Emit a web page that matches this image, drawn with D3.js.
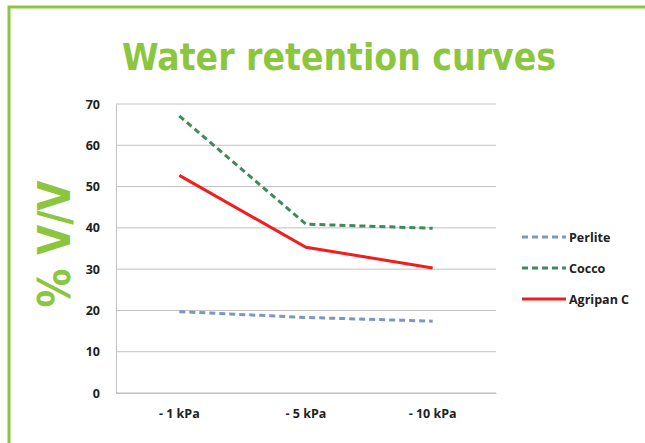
<!DOCTYPE html>
<html>
<head>
<meta charset="utf-8">
<script src="https://cdn.jsdelivr.net/npm/d3@7"></script>
<style>
body { margin: 0; background: #fff; }
svg { display: block; }
</style>
</head>
<body>
<svg id="chart" width="645" height="443"></svg>
<script>
// chart data
var categories = ["- 1 kPa", "- 5 kPa", "- 10 kPa"];
var perlite    = [19.7, 18.3, 17.4];
var cocco      = [67.1, 40.9, 39.9];
var agripan    = [52.7, 35.3, 30.3];
var yTicks     = [0, 10, 20, 30, 40, 50, 60, 70];

var series = [
        {name: "Perlite",   values: perlite, color: "#7b97c3", dash: "6,4"},
        {name: "Cocco",     values: cocco,   color: "#3e8b5a", dash: "6,4"},
        {name: "Agripan C", values: agripan, color: "#f01e1e", dash: null}
];

var svg = d3.select("#chart");
var green = "#8cc63f";

// outer frame (clipped on right/bottom like the picture)
svg.append("rect")
        .attr("x", 9).attr("y", 7)
        .attr("width", 700).attr("height", 500)
        .attr("fill", "none")
        .attr("stroke", green)
        .attr("stroke-width", 3);

// title
svg.append("text")
        .attr("x", 339).attr("y", 70)
        .attr("text-anchor", "middle")
        .attr("font-family", "'DejaVu Sans Condensed', 'DejaVu Sans', sans-serif")
        .attr("font-weight", "bold")
        .attr("font-size", 38)
        .attr("fill", green)
        .attr("textLength", 434)
        .attr("lengthAdjust", "spacingAndGlyphs")
        .text("Water retention curves");

var plotL = 116, plotR = 496, plotT = 104, plotB = 393;

var x = d3.scaleBand().domain(categories).range([plotL, plotR]);
var y = d3.scaleLinear().domain([0, 70]).range([plotB, plotT]);

// gridlines
svg.append("g")
        .selectAll("line")
        .data(yTicks)
        .enter().append("line")
        .attr("x1", plotL).attr("x2", plotR)
        .attr("y1", function(d) { return y(d); })
        .attr("y2", function(d) { return y(d); })
        .attr("stroke", "#c0c0c0")
        .attr("stroke-width", 1);

// y axis
var yAxis = svg.append("g")
        .attr("transform", "translate(" + plotL + ",0)")
        .call(d3.axisLeft(y).tickValues(yTicks).tickSize(0).tickPadding(16));
yAxis.select(".domain").attr("stroke", "#c0c0c0");
yAxis.selectAll("text")
        .attr("font-family", "'Open Sans', 'Liberation Sans', sans-serif")
        .attr("font-weight", "bold")
        .attr("font-size", 12.5)
        .attr("fill", "#222");

// x axis
var xAxis = svg.append("g")
        .attr("transform", "translate(0," + plotB + ")")
        .call(d3.axisBottom(x).tickSize(0).tickPadding(16));
xAxis.select(".domain").attr("stroke", "#c0c0c0");
xAxis.selectAll("text")
        .attr("font-family", "'Open Sans', 'Liberation Sans', sans-serif")
        .attr("font-weight", "bold")
        .attr("font-size", 12.5)
        .attr("fill", "#222");

// y title
svg.append("text")
        .attr("transform", "translate(70,244) rotate(-90)")
        .attr("text-anchor", "middle")
        .attr("font-family", "'DejaVu Sans', sans-serif")
        .attr("font-weight", "bold")
        .attr("font-size", 44)
        .attr("fill", green)
        .attr("textLength", 127)
        .attr("lengthAdjust", "spacingAndGlyphs")
        .text("% V/V");

// lines
var line = d3.line()
        .x(function(d, i) { return x(categories[i]) + x.bandwidth() / 2; })
        .y(function(d) { return y(d); });

series.forEach(function(s) {
        svg.append("path")
                .datum(s.values)
                .attr("d", line)
                .attr("fill", "none")
                .attr("stroke", s.color)
                .attr("stroke-width", 3)
                .attr("stroke-dasharray", s.dash);
});

// legend
var legend = svg.append("g");
series.forEach(function(s, i) {
        var ly = 237 + i * 31;
        legend.append("line")
                .attr("x1", 522).attr("x2", 566)
                .attr("y1", ly).attr("y2", ly)
                .attr("stroke", s.color)
                .attr("stroke-width", 3)
                .attr("stroke-dasharray", s.dash);
        legend.append("text")
                .attr("x", 569).attr("y", ly + 4.5)
                .attr("font-family", "'Open Sans', 'Liberation Sans', sans-serif")
                .attr("font-weight", "bold")
                .attr("font-size", 12.5)
                .attr("fill", "#222")
                .text(s.name);
});
</script>
</body>
</html>
